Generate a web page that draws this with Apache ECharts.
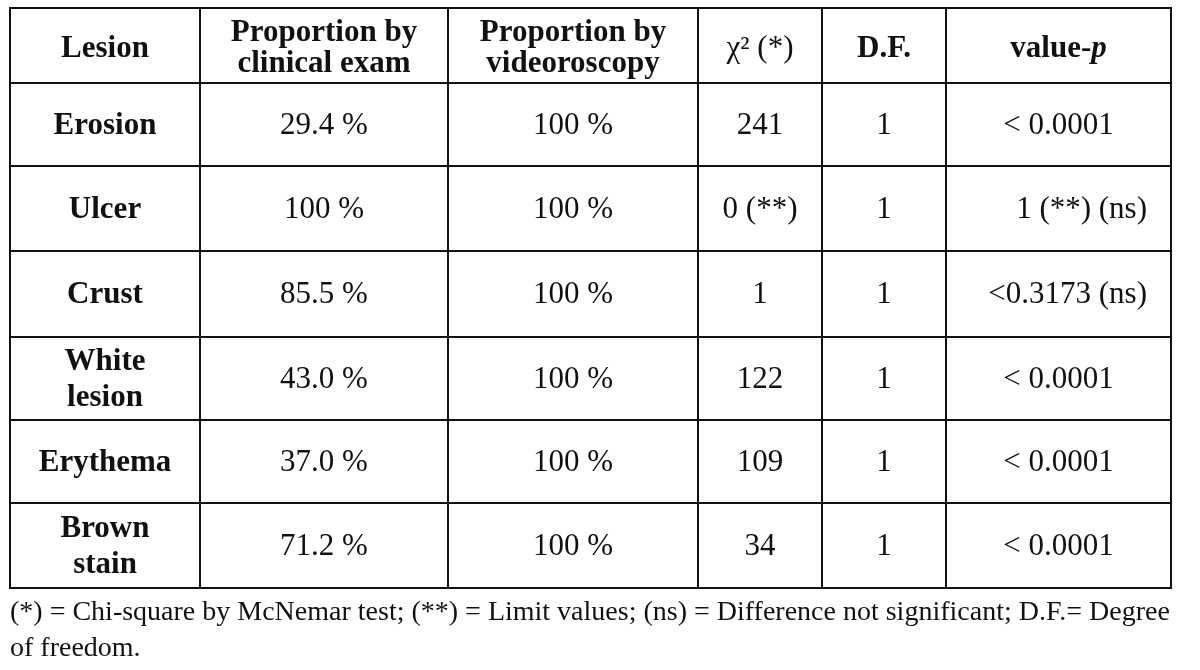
<!DOCTYPE html>
<html>
<head>
<meta charset="utf-8">
<script src="https://cdn.jsdelivr.net/npm/echarts@6/dist/echarts.min.js"></script>
<style>html,body{margin:0;padding:0;background:#fff;}#c{width:1200px;height:670px;}</style>
</head>
<body>
<div id="c"></div>
<script>
// ---- data ----
const headers = ['Lesion', 'Proportion by\nclinical exam', 'Proportion by\nvideoroscopy', '{r|χ² (*)}', 'D.F.', 'value-{i|p}'];
const lesions = ['Erosion', 'Ulcer', 'Crust', 'White\nlesion', 'Erythema', 'Brown\nstain'];
const clinicalExam = ['29.4 %', '100 %', '85.5 %', '43.0 %', '37.0 %', '71.2 %'];
const videoroscopy = ['100 %', '100 %', '100 %', '100 %', '100 %', '100 %'];
const chiSquare = ['241', '0 (**)', '1', '122', '109', '34'];
const degreesOfFreedom = ['1', '1', '1', '1', '1', '1'];
const pValues = ['< 0.0001', '1 (**) (ns)', '<0.3173 (ns)', '< 0.0001', '< 0.0001', '< 0.0001'];
const footnote = '(*) = Chi-square by McNemar test; (**) = Limit values; (ns) = Difference not significant; D.F.= Degree of freedom.';

// ---- layout (not data) ----
const colWidths = [190, 248, 250, 124, 124, 225];
const rowHeights = [75, 83, 85, 86, 83, 83, 85];
const rightAlignedP = [false, true, true, false, false, false];

const colEdges = [0]; colWidths.forEach(w => colEdges.push(colEdges[colEdges.length - 1] + w));
const rowEdges = [0]; rowHeights.forEach(h => rowEdges.push(rowEdges[rowEdges.length - 1] + h));

const cells = [];
const texts = [];
headers.forEach((h, c) => { cells.push([c, 0]); texts.push({ t: h, header: true }); });
const columns = [lesions, clinicalExam, videoroscopy, chiSquare, degreesOfFreedom, pValues];
for (let r = 0; r < lesions.length; r++) {
  columns.forEach((col, c) => {
    cells.push([c, r + 1]);
    texts.push({ t: col[r], header: false, bold: c === 0, right: c === 5 && rightAlignedP[r] });
  });
}

const chart = echarts.init(document.getElementById('c'));
const FONT = '"Liberation Serif", "Times New Roman", serif';

chart.setOption({
  animation: false,
  backgroundColor: '#fff',
  title: {
    text: footnote,
    left: 5, top: 590,
    textStyle: {
      fontFamily: FONT, fontSize: 28, fontWeight: 'normal', color: '#111',
      width: 1190, overflow: 'break', lineHeight: 36
    }
  },
  grid: { left: 10, top: 8, width: 1161, height: 580 },
  xAxis: { type: 'value', min: 0, max: colEdges[colEdges.length - 1], show: false },
  yAxis: { type: 'value', min: 0, max: rowEdges[rowEdges.length - 1], inverse: true, show: false },
  series: [{
    type: 'custom',
    coordinateSystem: 'cartesian2d',
    data: cells,
    renderItem: function (params, api) {
      const c = api.value(0), r = api.value(1);
      const p0 = api.coord([colEdges[c], rowEdges[r]]);
      const p1 = api.coord([colEdges[c + 1], rowEdges[r + 1]]);
      const info = texts[params.dataIndex];
      const w = p1[0] - p0[0], h = p1[1] - p0[1];
      const bold = info.header || info.bold;
      const tx = info.right ? p1[0] - 24 : p0[0] + w / 2;
      const lh = info.header ? 31 : 36;
      const dy = info.header ? 3 : 1;
      return {
        type: 'group',
        children: [
          {
            type: 'rect',
            shape: { x: p0[0], y: p0[1], width: w, height: h },
            style: { fill: 'none', stroke: '#111', lineWidth: 2 }
          },
          {
            type: 'text',
            x: tx, y: p0[1] + h / 2 + dy,
            style: {
              text: info.t,
              fontFamily: FONT,
              fontSize: 31,
              lineHeight: lh,
              fontWeight: bold ? 'bold' : 'normal',
              fill: '#111',
              align: info.right ? 'right' : 'center',
              verticalAlign: 'middle',
              rich: {
                r: { fontFamily: FONT, fontSize: 31, lineHeight: lh, fontWeight: 'normal', fill: '#111' },
                i: { fontFamily: FONT, fontSize: 31, lineHeight: lh, fontWeight: 'bold', fontStyle: 'italic', fill: '#111' }
              }
            }
          }
        ]
      };
    }
  }]
});
</script>
</body>
</html>
